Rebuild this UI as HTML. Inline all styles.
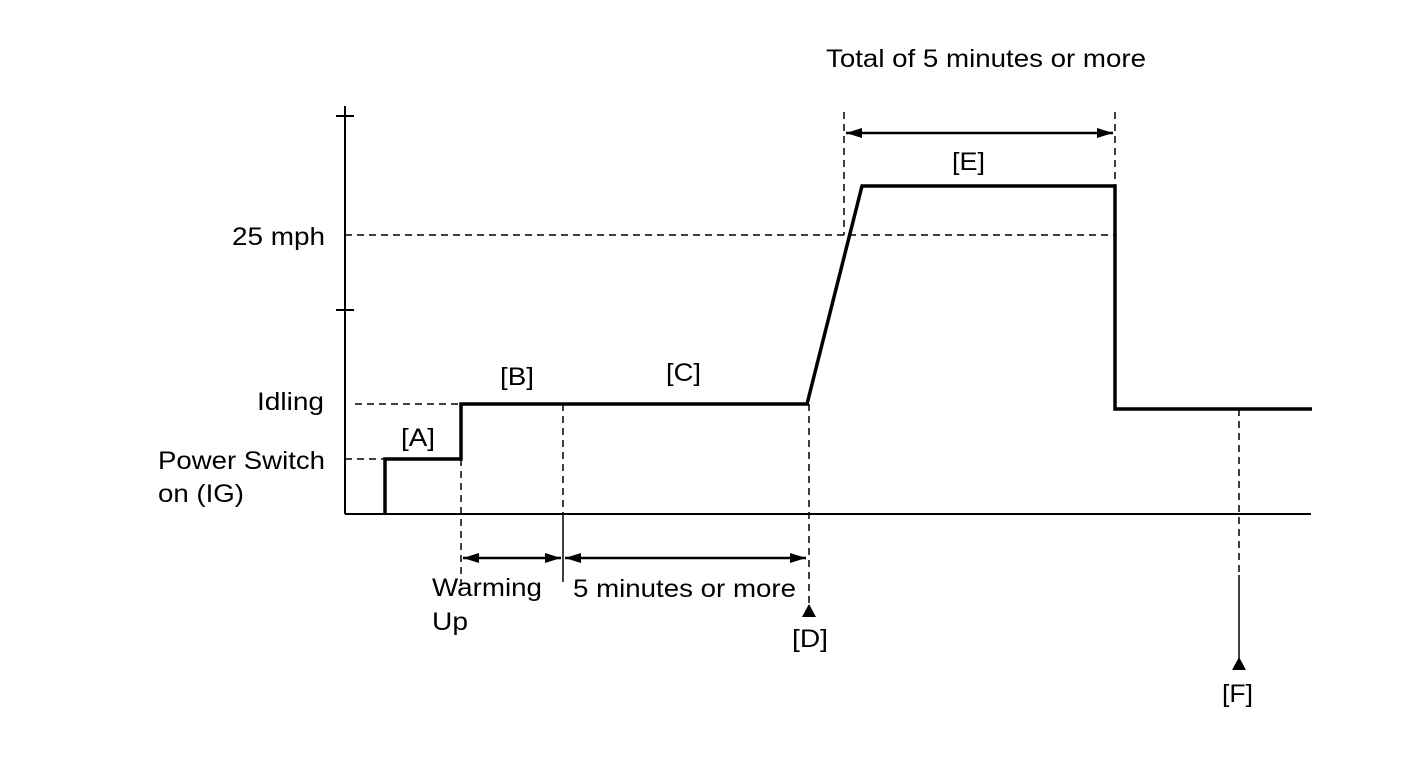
<!DOCTYPE html>
<html><head><style>body{margin:0;background:#fff}svg{display:block}text{font-family:"Liberation Sans",Arial,sans-serif;font-size:25px;fill:#000}</style></head><body>
<svg width="1424" height="759" viewBox="0 0 1424 759">
<defs>
<marker id="a" viewBox="0 0 16 10" refX="16" refY="5" markerWidth="16" markerHeight="10" markerUnits="userSpaceOnUse" orient="auto-start-reverse"><path d="M0,0L16,5L0,10z" fill="#000"/></marker>
</defs>
<g stroke="#000" fill="none">
<line x1="345" y1="106" x2="345" y2="514" stroke-width="2"/>
<line x1="336" y1="116" x2="354" y2="116" stroke-width="2"/>
<line x1="336" y1="310" x2="354" y2="310" stroke-width="2"/>
<line x1="345" y1="514" x2="1311" y2="514" stroke-width="2"/>
<g stroke-dasharray="7,5" stroke-width="1.5">
<line x1="345" y1="459" x2="385" y2="459"/>
<line x1="355" y1="404" x2="461" y2="404"/>
<line x1="345" y1="235" x2="1115" y2="235"/>
<line x1="461" y1="459" x2="461" y2="590"/>
<line x1="563" y1="404" x2="563" y2="514"/>
<line x1="809" y1="404" x2="809" y2="606"/>
<line x1="844" y1="112" x2="844" y2="235"/>
<line x1="1115" y1="112" x2="1115" y2="186"/>
<line x1="1239" y1="409" x2="1239" y2="575"/>
</g>
<line x1="563" y1="514" x2="563" y2="582" stroke-width="1.5"/>
<line x1="1239" y1="575" x2="1239" y2="662" stroke-width="1.5"/>
<polyline points="385,514 385,459 461,459 461,404 807,404 862,186 1115,186 1115,409 1312,409" stroke-width="3.5"/>
<g stroke-width="2.5">
<line x1="463" y1="558" x2="561" y2="558" marker-start="url(#a)" marker-end="url(#a)"/>
<line x1="565" y1="558" x2="806" y2="558" marker-start="url(#a)" marker-end="url(#a)"/>
<line x1="846" y1="133" x2="1113" y2="133" marker-start="url(#a)" marker-end="url(#a)"/>
</g>
</g>
<path d="M802,617L809,604L816,617z M1232,670L1239,657L1246,670z" fill="#000"/>
<text x="826" y="67" textLength="320" lengthAdjust="spacingAndGlyphs">Total of 5 minutes or more</text>
<text x="952" y="170" textLength="33" lengthAdjust="spacingAndGlyphs">[E]</text>
<text x="232" y="245" textLength="93" lengthAdjust="spacingAndGlyphs">25 mph</text>
<text x="257" y="410" textLength="67" lengthAdjust="spacingAndGlyphs">Idling</text>
<text x="158" y="469" textLength="167" lengthAdjust="spacingAndGlyphs">Power Switch</text>
<text x="158" y="502" textLength="86" lengthAdjust="spacingAndGlyphs">on (IG)</text>
<text x="401" y="446" textLength="34" lengthAdjust="spacingAndGlyphs">[A]</text>
<text x="500" y="385" textLength="34" lengthAdjust="spacingAndGlyphs">[B]</text>
<text x="666" y="381" textLength="35" lengthAdjust="spacingAndGlyphs">[C]</text>
<text x="432" y="596" textLength="110" lengthAdjust="spacingAndGlyphs">Warming</text>
<text x="432" y="630" textLength="36" lengthAdjust="spacingAndGlyphs">Up</text>
<text x="573" y="597" textLength="223" lengthAdjust="spacingAndGlyphs">5 minutes or more</text>
<text x="792" y="647" textLength="36" lengthAdjust="spacingAndGlyphs">[D]</text>
<text x="1222" y="702" textLength="31" lengthAdjust="spacingAndGlyphs">[F]</text>
</svg>
</body></html>
